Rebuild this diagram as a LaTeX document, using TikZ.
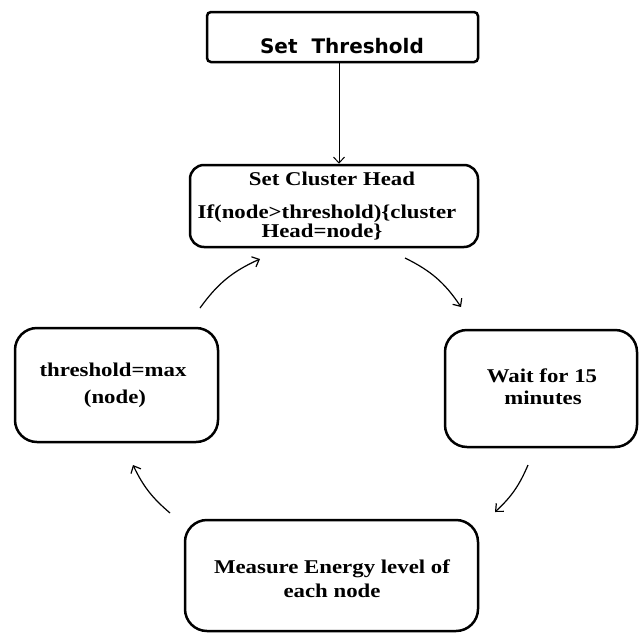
\documentclass[tikz,border=0pt]{standalone}
\usepackage{fontspec}
\usetikzlibrary{arrows.meta,calc}
\newfontfamily\tbf[FakeStretch=1.17]{Liberation Serif}
\newfontfamily\hbf{DejaVu Sans}
\tikzset{
  box/.style={draw, line width=2.5pt, rectangle, inner sep=0pt},
  lbl/.style={anchor=base, inner sep=0pt, font=\tbf\bfseries\fontsize{19.5}{22}\selectfont},
  toplbl/.style={anchor=base, inner sep=0pt, font=\hbf\bfseries\fontsize{20}{24}\selectfont},
  arr/.style={line width=1.2pt, -{Straight Barb[length=6pt,width=11pt]}}
}
\begin{document}
\begin{tikzpicture}[x=1pt,y=-1pt]
\useasboundingbox (0,0) rectangle (639,632);
% boxes
\node[box, rounded corners=4pt, minimum width=271pt, minimum height=50pt] (top) at (342.5,37) {};
\node[box, rounded corners=14pt, minimum width=288pt, minimum height=82pt] (ch) at (334,206) {};
\node[box, rounded corners=22pt, minimum width=203pt, minimum height=114pt] (left) at (116.5,385) {};
\node[box, rounded corners=22pt, minimum width=192pt, minimum height=117pt] (right) at (541,388.5) {};
\node[box, rounded corners=22pt, minimum width=293pt, minimum height=111pt] (bot) at (331.5,575.5) {};
% labels
\node[toplbl] (ttop) at (342,53) {Set\ \ Threshold};
\node[lbl] (tch1) at (332,185) {Set Cluster Head};
\node[lbl] (tch2) at (327,218) {If(node>threshold)\{cluster};
\node[lbl] (tch3) at (322,237) {Head=node\}};
\node[lbl] (tl1) at (113,376) {threshold=max};
\node[lbl] (tl2) at (115,403) {(node)};
\node[lbl] (tr1) at (542,382) {Wait for 15};
\node[lbl] (tr2) at (543,404) {minutes};
\node[lbl] (tb1) at (332,573) {Measure Energy level of};
\node[lbl] (tb2) at (332,597) {each node};
% arrow from top to cluster head
\draw[arr, line width=1pt] ([xshift=-3.5pt]top.south) -- ([xshift=-3.5pt]top.south |- ch.north);
% cycle arrows
\coordinate (a1s) at (405,258); \coordinate (a1e) at (461,307);
\coordinate (a2s) at (528,465); \coordinate (a2e) at (495,512);
\coordinate (a3s) at (170,513); \coordinate (a3e) at (133,465);
\coordinate (a4s) at (200,308); \coordinate (a4e) at (260,259);
\draw[arr] (a1s) to[bend left=15] (a1e);
\draw[arr] (a2s) to[bend left=12] (a2e);
\draw[arr] (a3s) to[bend left=12] (a3e);
\draw[arr] (a4s) to[bend left=15] (a4e);
\end{tikzpicture}
\end{document}
